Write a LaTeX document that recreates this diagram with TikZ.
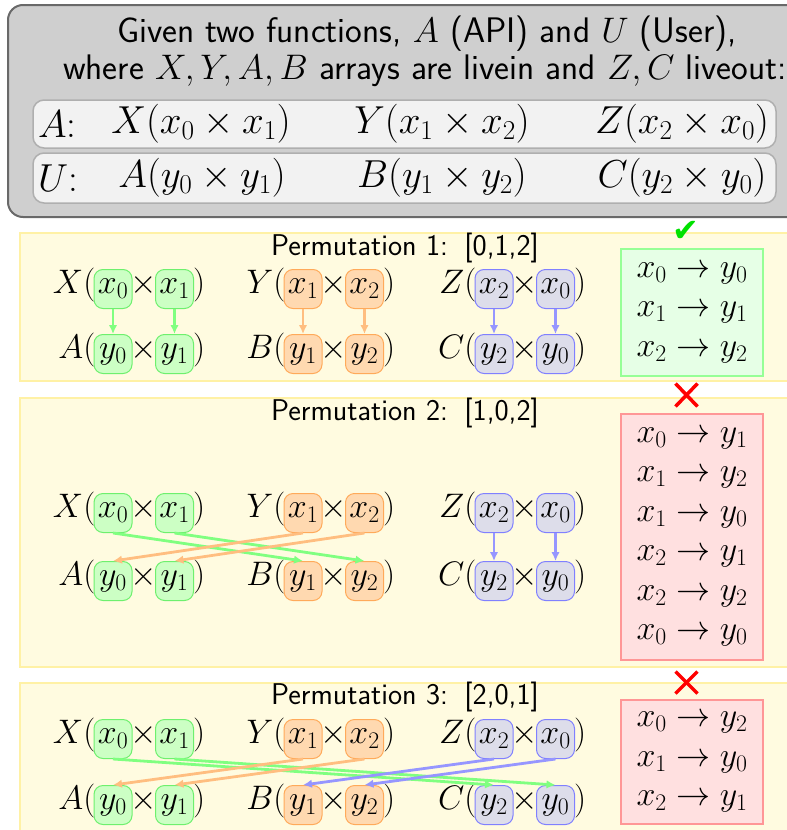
\RequirePackage{fix-cm}
\documentclass[tikz,border=0pt]{standalone}
\usepackage{amsmath,amssymb}
\usepackage{fontspec}
\newfontfamily\djv{DejaVu Sans}
\usetikzlibrary{arrows.meta,calc}
\definecolor{grayfill}{RGB}{207,207,207}
\definecolor{grayline}{RGB}{105,105,105}
\definecolor{rowfill}{RGB}{242,242,242}
\definecolor{rowline}{RGB}{175,175,175}
\definecolor{yelfill}{RGB}{255,251,224}
\definecolor{yelline}{RGB}{255,241,165}
\definecolor{gfill}{RGB}{204,255,196}
\definecolor{gline}{RGB}{110,240,110}
\definecolor{ofill}{RGB}{255,217,176}
\definecolor{oline}{RGB}{255,170,90}
\definecolor{bfill}{RGB}{221,221,234}
\definecolor{bline}{RGB}{128,128,255}
\definecolor{garrow}{RGB}{128,255,128}
\definecolor{oarrow}{RGB}{255,190,128}
\definecolor{barrow}{RGB}{150,150,255}
\definecolor{okfill}{RGB}{230,255,230}
\definecolor{okline}{RGB}{150,255,150}
\definecolor{badfill}{RGB}{255,224,224}
\definecolor{badline}{RGB}{255,150,150}
\definecolor{checkgreen}{RGB}{0,225,0}
\newcommand\vterm[7]{%
  \node[#5] (#1a) at (#3,#4) {$#6$};
  \node[#5] (#1b) at (#3+61.5,#4) {$#7$};
  \node[anchor=base east, inner sep=0pt] (#1l) at ([xshift=2pt]#1a.base west) {$#2($};
  \node[anchor=base, inner sep=0pt] (#1x) at ($(#1a.base)!0.5!(#1b.base)$) {$\times$};
  \node[anchor=base west, inner sep=0pt] (#1r) at ([xshift=-1pt]#1b.base east) {$)$};
}
\begin{document}
\begin{tikzpicture}[x=1pt,y=-1pt,
  hfont/.style={font=\fontsize{35.5}{42}\selectfont\sffamily},
  rowfont/.style={font=\fontsize{39}{46}\selectfont},
  permfont/.style={font=\fontsize{30}{36}\selectfont\sffamily},
  graybox/.style={draw=grayline, fill=grayfill, line width=2pt, rounded corners=15pt},
  rowbox/.style={draw=rowline, fill=rowfill, line width=1.5pt, rounded corners=11pt},
  yelbox/.style={draw=yelline, fill=yelfill, line width=2pt},
  vbox/.style={rounded corners=9pt, line width=1pt, minimum width=38pt, minimum height=39pt,
    inner sep=0pt, text height=15pt, text depth=6pt},
  gvar/.style={vbox, draw=gline, fill=gfill},
  ovar/.style={vbox, draw=oline, fill=ofill},
  bvar/.style={vbox, draw=bline, fill=bfill},
  arr/.style={line width=2.8pt, -{Latex[length=9pt,width=8.5pt]}},
  garr/.style={arr, draw=garrow},
  oarr/.style={arr, draw=oarrow},
  barr/.style={arr, draw=barrow},
  resbox/.style={line width=2.5pt, minimum width=142pt, align=center, inner sep=0pt,
    font=\fontsize{34}{39.5}\selectfont},
  okbox/.style={resbox, draw=okline, fill=okfill},
  badbox/.style={resbox, draw=badline, fill=badfill},
  crossline/.style={draw=red, line width=3.5pt}
]
\useasboundingbox (0,0) rectangle (787,830);
\clip (0,0) rectangle (787,830);
\begin{scope}[font=\fontsize{34}{40}\selectfont]
% ---------- header ----------
\draw[graybox] (8,5) rectangle (870,217);
\node[hfont] (h1) at (427,34) {Given two functions, $A$ (API) and $U$ (User),};
\node[hfont] (h2) at (425,71) {where $X,Y,A,B$ arrays are livein and $Z,C$ liveout:};
\node[rowbox, minimum width=743pt, minimum height=48pt] (ra) at (404.5,124) {};
\node[rowbox, minimum width=743pt, minimum height=50pt] (rb) at (404.5,178) {};
\node[rowfont, anchor=west, inner sep=0pt] (la) at (38,124) {$A$:};
\node[rowfont, anchor=west, inner sep=0pt] (lu) at (38,178) {$U$:};
\node[rowfont] (ax) at (201,124) {$X(x_0\times x_1)$};
\node[rowfont] (ay) at (442,124) {$Y(x_1\times x_2)$};
\node[rowfont] (az) at (682,124) {$Z(x_2\times x_0)$};
\node[rowfont] (ua) at (202,178) {$A(y_0\times y_1)$};
\node[rowfont] (ub) at (442,178) {$B(y_1\times y_2)$};
\node[rowfont] (uc) at (682,178) {$C(y_2\times y_0)$};
% ---------- permutation 1 ----------
\draw[yelbox] (20,233) rectangle (900,381);
\node[permfont] (t1) at (405,248) {Permutation 1:\hspace{0.55em}[0,1,2]};
\vterm{pAX}{X}{113}{289}{gvar}{x_0}{x_1}
\vterm{pAY}{Y}{303}{289}{ovar}{x_1}{x_2}
\vterm{pAZ}{Z}{494}{289}{bvar}{x_2}{x_0}
\vterm{pAA}{A}{113}{354}{gvar}{y_0}{y_1}
\vterm{pAB}{B}{303}{354}{ovar}{y_1}{y_2}
\vterm{pAC}{C}{494}{354}{bvar}{y_2}{y_0}
\draw[garr] (pAXa.south) -- (pAAa.north);
\draw[garr] (pAXb.south) -- (pAAb.north);
\draw[oarr] (pAYa.south) -- (pABa.north);
\draw[oarr] (pAYb.south) -- (pABb.north);
\draw[barr] (pAZa.south) -- (pACa.north);
\draw[barr] (pAZb.south) -- (pACb.north);
\node[okbox, minimum height=127pt] (r1) at (692,312.5) {$x_0\rightarrow y_0$\\$x_1\rightarrow y_1$\\$x_2\rightarrow y_2$};
\node[text=checkgreen, font=\fontsize{32}{36}\selectfont\djv, inner sep=0pt] (ok1) at (686,231) {✔};
% ---------- permutation 2 ----------
\draw[yelbox] (20,398) rectangle (900,667);
\node[permfont] (t2) at (405,413) {Permutation 2:\hspace{0.55em}[1,0,2]};
\vterm{pBX}{X}{113}{513}{gvar}{x_0}{x_1}
\vterm{pBY}{Y}{303}{513}{ovar}{x_1}{x_2}
\vterm{pBZ}{Z}{494}{513}{bvar}{x_2}{x_0}
\vterm{pBA}{A}{113}{581}{gvar}{y_0}{y_1}
\vterm{pBB}{B}{303}{581}{ovar}{y_1}{y_2}
\vterm{pBC}{C}{494}{581}{bvar}{y_2}{y_0}
\draw[garr] (pBXa.south) -- (pBBa.north);
\draw[garr] (pBXb.south) -- (pBBb.north);
\draw[oarr] (pBYa.south) -- (pBAa.north);
\draw[oarr] (pBYb.south) -- (pBAb.north);
\draw[barr] (pBZa.south) -- (pBCa.north);
\draw[barr] (pBZb.south) -- (pBCb.north);
\node[badbox, minimum height=246pt] (r2) at (692,537) {$x_0\rightarrow y_1$\\$x_1\rightarrow y_2$\\$x_1\rightarrow y_0$\\$x_2\rightarrow y_1$\\$x_2\rightarrow y_2$\\$x_0\rightarrow y_0$};
\coordinate (c2) at (686.5,395);
\draw[crossline] ($(c2)+(-11,-11.5)$) -- ($(c2)+(11,11.5)$);
\draw[crossline] ($(c2)+(-11,11.5)$) -- ($(c2)+(11,-11.5)$);
% ---------- permutation 3 ----------
\draw[yelbox] (20,683) rectangle (900,900);
\node[permfont] (t3) at (405,697) {Permutation 3:\hspace{0.55em}[2,0,1]};
\vterm{pCX}{X}{113}{739}{gvar}{x_0}{x_1}
\vterm{pCY}{Y}{303}{739}{ovar}{x_1}{x_2}
\vterm{pCZ}{Z}{494}{739}{bvar}{x_2}{x_0}
\vterm{pCA}{A}{113}{805}{gvar}{y_0}{y_1}
\vterm{pCB}{B}{303}{805}{ovar}{y_1}{y_2}
\vterm{pCC}{C}{494}{805}{bvar}{y_2}{y_0}
\draw[garr] (pCXa.south) -- (pCCa.north);
\draw[garr] (pCXb.south) -- (pCCb.north);
\draw[oarr] (pCYa.south) -- (pCAa.north);
\draw[oarr] (pCYb.south) -- (pCAb.north);
\draw[barr] (pCZa.south) -- (pCBa.north);
\draw[barr] (pCZb.south) -- (pCBb.north);
\node[badbox, minimum height=124pt] (r3) at (692,762) {$x_0\rightarrow y_2$\\$x_1\rightarrow y_0$\\$x_2\rightarrow y_1$};
\coordinate (c3) at (686.5,682.5);
\draw[crossline] ($(c3)+(-11,-11)$) -- ($(c3)+(11,11)$);
\draw[crossline] ($(c3)+(-11,11)$) -- ($(c3)+(11,-11)$);
\end{scope}
\end{tikzpicture}
\end{document}
